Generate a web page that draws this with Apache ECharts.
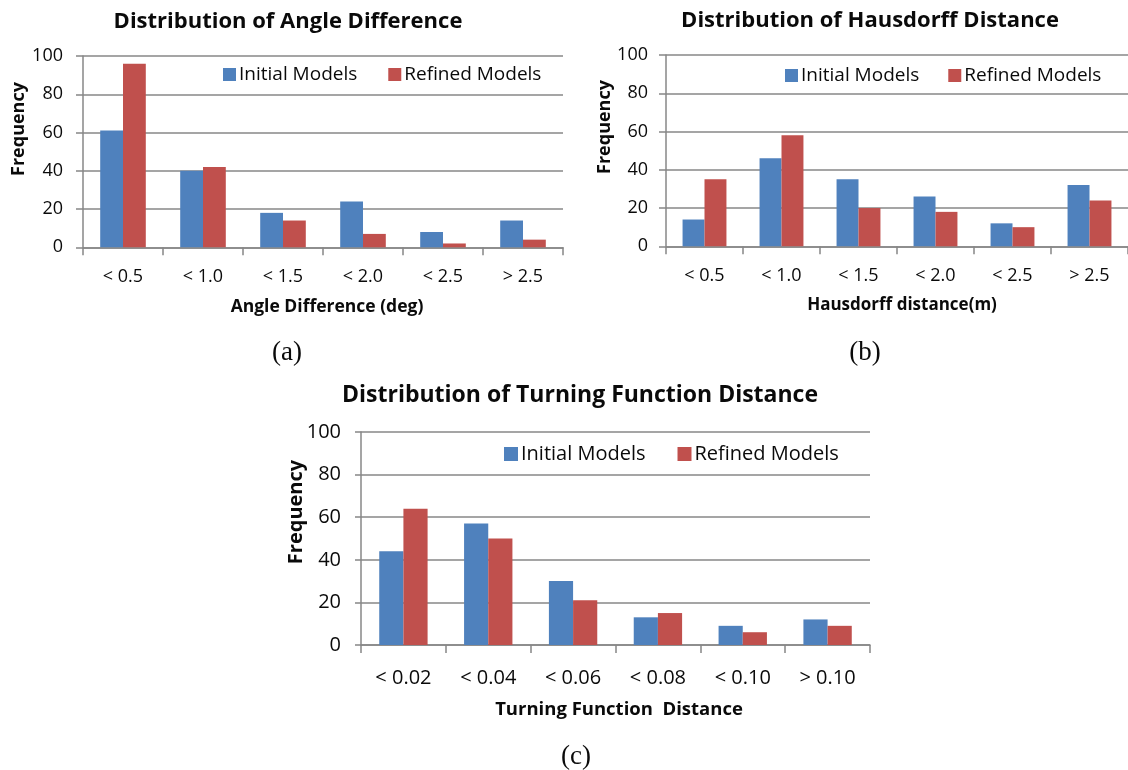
<!DOCTYPE html>
<html>
<head>
<meta charset="utf-8">
<title>Distribution charts</title>
<script src="https://cdn.jsdelivr.net/npm/echarts@6/dist/echarts.min.js"></script>
<style>
  html, body { margin: 0; padding: 0; background: #ffffff; }
  #chart { width: 1128px; height: 770px; }
</style>
</head>
<body>
<div id="chart"></div>
<script>
// Bin labels
var angleBins = ['< 0.5', '< 1.0', '< 1.5', '< 2.0', '< 2.5', '> 2.5'];
var hausBins = ['< 0.5', '< 1.0', '< 1.5', '< 2.0', '< 2.5', '> 2.5'];
var turnBins = ['< 0.02', '< 0.04', '< 0.06', '< 0.08', '< 0.10', '> 0.10'];

// Frequencies per bin (165 models in each distribution)
var angleInitial = [61, 40, 18, 24, 8, 14];
var angleRefined = [96, 42, 14, 7, 2, 4];
var hausInitial = [14, 46, 35, 26, 12, 32];
var hausRefined = [35, 58, 20, 18, 10, 24];
var turnInitial = [44, 57, 30, 13, 9, 12];
var turnRefined = [64, 50, 21, 15, 6, 9];

var seriesNames = ['Initial Models', 'Refined Models'];
var freqTicks = { min: 0, max: 100, interval: 20 };

var SANS = "'Open Sans', 'Liberation Sans', sans-serif";
var SERIF = "'Liberation Serif', 'DejaVu Serif', serif";
var BLUE = '#4F81BD';
var RED = '#C0504D';
var GRID_GRAY = '#878787';
var INK = '#0a0a0a';

var panels = [
  { bins: angleBins, a: angleInitial, b: angleRefined,
    grid: { left: 83, top: 56, width: 480, height: 191.3 },
    font: 18, xMargin: 21, yMargin: 20, yTick: 7, xTick: 8,
    legend: { left: 223, top: 65, font: 19, gap: 31, icon: 13 } },
  { bins: hausBins, a: hausInitial, b: hausRefined,
    grid: { left: 666, top: 55, width: 464, height: 191.3 },
    font: 18, xMargin: 21, yMargin: 18, yTick: 7, xTick: 8,
    legend: { left: 785, top: 66, font: 19, gap: 29, icon: 13 } },
  { bins: turnBins, a: turnInitial, b: turnRefined,
    grid: { left: 361, top: 432, width: 509, height: 213 },
    font: 20, xMargin: 23, yMargin: 20, yTick: 6, xTick: 8,
    legend: { left: 504, top: 444, font: 20, gap: 32, icon: 14 } }
];

var grids = [], xAxes = [], yAxes = [], legends = [], series = [];
panels.forEach(function (p, i) {
  grids.push(Object.assign({ containLabel: false }, p.grid));
  xAxes.push({
    gridIndex: i, type: 'category', data: p.bins,
    axisLine: { show: true, lineStyle: { color: GRID_GRAY, width: 1.5 } },
    axisTick: { show: true, length: p.xTick, interval: 0, lineStyle: { color: GRID_GRAY, width: 1.5 } },
    axisLabel: { interval: 0, margin: p.xMargin, fontSize: p.font, fontFamily: SANS, color: INK },
    splitLine: { show: false }
  });
  yAxes.push({
    gridIndex: i, type: 'value', min: freqTicks.min, max: freqTicks.max, interval: freqTicks.interval,
    axisLine: { show: true, lineStyle: { color: GRID_GRAY, width: 1.5 } },
    axisTick: { show: true, length: p.yTick, lineStyle: { color: GRID_GRAY, width: 1.5 } },
    axisLabel: { margin: p.yMargin, fontSize: p.font, fontFamily: SANS, color: INK },
    splitLine: { show: true, lineStyle: { color: GRID_GRAY, width: 1.5 } }
  });
  legends.push({
    data: seriesNames, orient: 'horizontal', left: p.legend.left, top: p.legend.top,
    padding: 0, itemGap: p.legend.gap, itemWidth: p.legend.icon, itemHeight: p.legend.icon,
    icon: 'rect', selectedMode: false,
    textStyle: { fontSize: p.legend.font, fontFamily: SANS, color: INK, padding: [0, 0, 0, -2] }
  });
  [p.a, p.b].forEach(function (vals, k) {
    series.push({
      name: seriesNames[k], type: 'bar', xAxisIndex: i, yAxisIndex: i,
      data: vals, barGap: '0%', barCategoryGap: '43%',
      itemStyle: { color: k === 0 ? BLUE : RED }
    });
  });
});

function label(text, x, y, font, rotate) {
  return {
    type: 'text', x: x, y: y, rotation: rotate ? Math.PI / 2 : 0, silent: true,
    style: {
      text: text, font: font, fill: INK,
      align: 'center', verticalAlign: 'middle',
      textAlign: 'center', textVerticalAlign: 'middle'
    }
  };
}

var graphics = [
  // chart titles
  label('Distribution of Angle Difference', 288, 22, 'bold 22px ' + SANS),
  label('Distribution of Hausdorff Distance', 870, 21, 'bold 22px ' + SANS),
  label('Distribution of Turning Function Distance', 580, 395, 'bold 23px ' + SANS),
  // axis titles
  label('Angle Difference (deg)', 327, 307, 'bold 17.5px ' + SANS),
  label('Hausdorff distance(m)', 902, 305, 'bold 17px ' + SANS),
  label('Turning Function  Distance', 619, 710, 'bold 18.5px ' + SANS),
  label('Frequency', 19, 129, 'bold 18px ' + SANS, true),
  label('Frequency', 605, 127, 'bold 18px ' + SANS, true),
  label('Frequency', 296, 512, 'bold 20px ' + SANS, true),
  // panel captions
  label('(a)', 287, 353, '27px ' + SERIF),
  label('(b)', 865, 353, '27px ' + SERIF),
  label('(c)', 576, 757, '27px ' + SERIF)
];

var chart = echarts.init(document.getElementById('chart'), null, { renderer: 'canvas' });
chart.setOption({
  animation: false,
  backgroundColor: '#ffffff',
  grid: grids,
  xAxis: xAxes,
  yAxis: yAxes,
  legend: legends,
  series: series,
  graphic: graphics
});
</script>
</body>
</html>
